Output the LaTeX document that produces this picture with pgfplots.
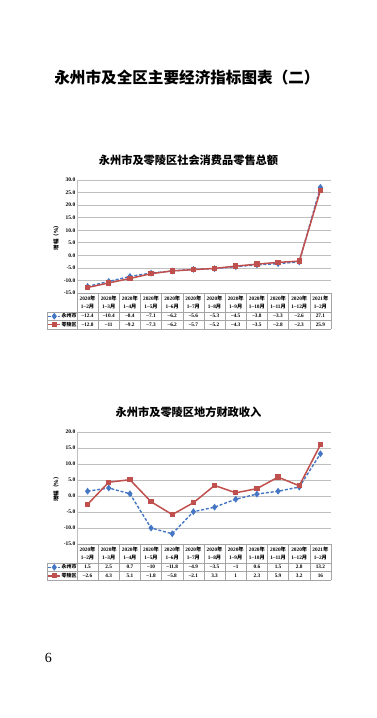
\documentclass[border=0pt]{standalone}
\usepackage{pgfplots}
\usepackage{pgfplotstable}
\pgfplotsset{compat=1.18}
\usepackage{fontspec}
\setmainfont{Liberation Serif}
\newfontfamily\cjk{Noto Sans CJK SC}
\definecolor{bl}{RGB}{68,118,196}
\definecolor{rd}{RGB}{192,80,77}
\definecolor{gridc}{RGB}{191,191,191}
\definecolor{tabc}{RGB}{165,165,165}

\pgfplotstableread{
x yz ll
0 -12.4 -12.8
1 -10.4 -11
2 -8.4 -9.2
3 -7.1 -7.3
4 -6.2 -6.2
5 -5.6 -5.7
6 -5.3 -5.2
7 -4.5 -4.3
8 -3.8 -3.5
9 -3.3 -2.8
10 -2.6 -2.3
11 27.1 25.9
}\retail
\pgfplotstableread{
x yz ll
0 1.5 -2.6
1 2.5 4.3
2 0.7 5.1
3 -10 -1.8
4 -11.8 -5.8
5 -4.9 -2.1
6 -3.5 3.3
7 -1 1
8 0.6 2.3
9 1.5 5.9
10 2.8 3.2
11 13.2 16
}\revenue

\pgfplotsset{
 chartbase/.style={
  width=254pt, scale only axis, xmin=-0.5, xmax=11.5,
  axis y line*=left, axis x line=none,
  axis line style={gridc, line width=0.7pt},
  ymajorgrids, grid style={gridc, line width=0.7pt},
  major tick length=0pt,
  ytick distance=5,
  /pgf/number format/assume math mode=true,
  yticklabel style={font=\fontsize{5.5}{6}\selectfont\bfseries, inner sep=1.5pt, /pgf/number format/.cd, fixed, fixed zerofill, precision=1},
  ylabel={增幅（\%）},
  ylabel style={font=\cjk\bfseries\fontsize{5.5}{6}\selectfont, at={(axis description cs:-0.083,0.5)}, anchor=center},
  clip=false,
  legend cell align=left,
  legend style={draw=none, fill=none, inner sep=0pt, outer sep=0pt, font=\cjk\bfseries\fontsize{5}{6}\selectfont, row sep=0pt, nodes={inner sep=0.5pt, minimum height=8.5pt}, anchor=north west},
  legend image code/.code={\draw[mark repeat=2,mark phase=2,##1] plot coordinates {(0pt,0pt) (6pt,0pt) (12pt,0pt)};},
 },
 yz/.style={bl, line width=1.4pt, dash pattern=on 3pt off 1.8pt, mark=diamond*, mark size=2.3pt, mark options={solid}},
 ll/.style={rd, line width=1.5pt, mark=square*, mark size=1.9pt, mark options={solid}},
}

\newcommand\drawtable[3]{%
 \begin{scope}[x=1pt,y=-1pt]
  \def\T{#1}
  \draw[tabc, line width=0.5pt] (77,\T) -- (331,\T);
  \foreach \dy in {19,27,36} \draw[tabc, line width=0.5pt] (47,\T+\dy) -- (331,\T+\dy);
  \draw[tabc, line width=0.5pt] (47,\T+19) -- (47,\T+36);
  \foreach \i in {0,...,12} \draw[tabc,line width=0.5pt] ({77+\i*254/12},\T) -- ({77+\i*254/12},\T+36);
  \foreach \i/\a/\b in {0/2020/2,1/2020/3,2/2020/4,3/2020/5,4/2020/6,5/2020/7,6/2020/8,7/2020/9,8/2020/10,9/2020/11,10/2020/12,11/2021/2}
    \node[inner sep=0pt, align=center, font=\bfseries\fontsize{5.3}{7.5}\selectfont] at ({77+(\i+0.5)*254/12},\T+9.7) {\a{\cjk 年}\\1–\b{\cjk 月}};
  \foreach \v [count=\i from 0] in {#2}
    \node[inner sep=0pt, font=\bfseries\fontsize{5.3}{6}\selectfont] at ({77+(\i+0.5)*254/12},\T+23) {\v};
  \foreach \v [count=\i from 0] in {#3}
    \node[inner sep=0pt, font=\bfseries\fontsize{5.3}{6}\selectfont] at ({77+(\i+0.5)*254/12},\T+31.5) {\v};
 \end{scope}}

\begin{document}
\begin{tikzpicture}
\fill[white] (0pt,0pt) rectangle (377pt,-718pt);
\path[use as bounding box] (0pt,0pt) rectangle (377pt,-718pt);

\node[font=\cjk\bfseries\fontsize{15.6}{18}\selectfont] at (187pt,-78pt) {永州市及全区主要经济指标图表（二）};
\node[font=\cjk\bfseries\fontsize{11.2}{13}\selectfont] at (188.5pt,-160.5pt) {永州市及零陵区社会消费品零售总额};
\node[font=\cjk\bfseries\fontsize{11.2}{13}\selectfont] at (188.5pt,-412.5pt) {永州市及零陵区地方财政收入};
\node[font=\fontsize{14}{16}\selectfont] at (48.5pt,-658pt) {6};

\begin{axis}[chartbase, at={(77pt,-293pt)}, anchor=south west, height=113pt,
  ymin=-15, ymax=30,
  legend style={at={(axis description cs:-0.116,-0.168)}}]
\addplot[yz] table[x=x,y=yz] {\retail};
\addlegendentry{永州市}
\addplot[ll] table[x=x,y=ll] {\retail};
\addlegendentry{零陵区}
\end{axis}
\drawtable{293}{–12.4,–10.4,–8.4,–7.1,–6.2,–5.6,–5.3,–4.5,–3.8,–3.3,–2.6,27.1}{–12.8,–11,–9.2,–7.3,–6.2,–5.7,–5.2,–4.3,–3.5,–2.8,–2.3,25.9}

\begin{axis}[chartbase, at={(77pt,-544pt)}, anchor=south west, height=112pt,
  ymin=-15, ymax=20,
  legend style={at={(axis description cs:-0.116,-0.17)}}]
\addplot[yz] table[x=x,y=yz] {\revenue};
\addlegendentry{永州市}
\addplot[ll] table[x=x,y=ll] {\revenue};
\addlegendentry{零陵区}
\end{axis}
\drawtable{544}{1.5,2.5,0.7,–10,–11.8,–4.9,–3.5,–1,0.6,1.5,2.8,13.2}{–2.6,4.3,5.1,–1.8,–5.8,–2.1,3.3,1,2.3,5.9,3.2,16}
\end{tikzpicture}
\end{document}
